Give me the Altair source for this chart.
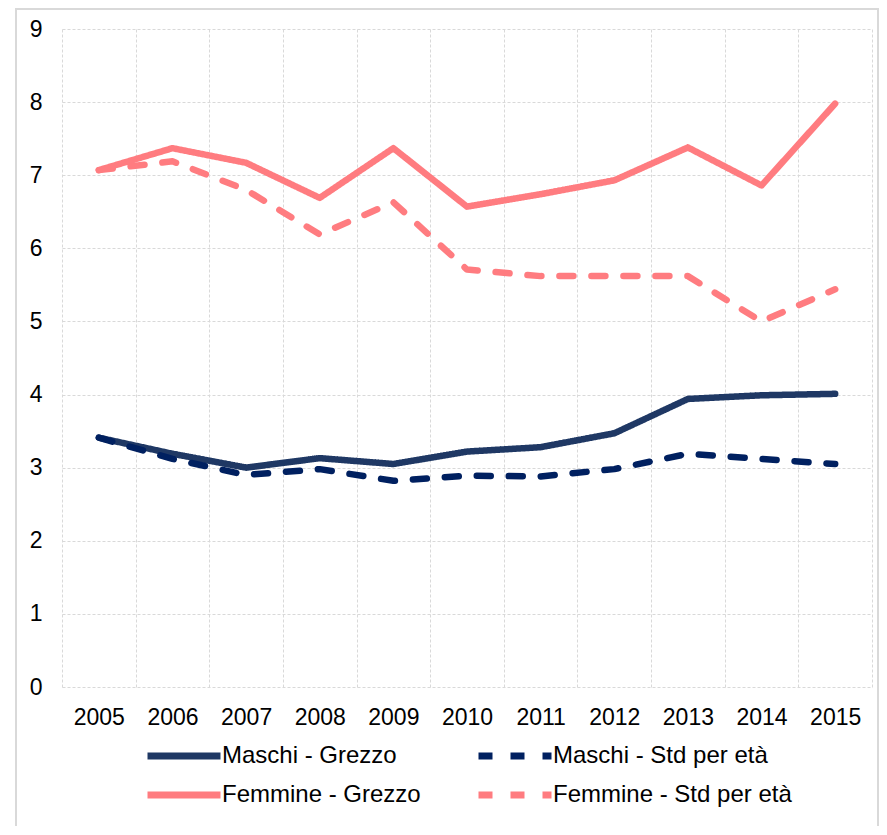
import altair as alt
import pandas as pd

years = list(range(2005, 2016))
maschi_grezzo = [3.41, 3.19, 3.00, 3.13, 3.05, 3.22, 3.28, 3.47, 3.94, 3.99, 4.01]
maschi_std = [3.41, 3.12, 2.90, 2.98, 2.82, 2.89, 2.88, 2.98, 3.19, 3.12, 3.05]
femmine_grezzo = [7.07, 7.37, 7.17, 6.69, 7.37, 6.57, 6.74, 6.93, 7.38, 6.86, 7.98]
femmine_std = [7.07, 7.19, 6.80, 6.19, 6.63, 5.71, 5.62, 5.62, 5.62, 5.00, 5.44]

series_names = ["Maschi - Grezzo", "Maschi - Std per età", "Femmine - Grezzo", "Femmine - Std per età"]
series_values = [maschi_grezzo, maschi_std, femmine_grezzo, femmine_std]
series_colors = ["#1F3864", "#002060", "#FF7C80", "#FF7C80"]
series_dash = [[1, 0], [14, 18], [1, 0], [14, 18]]

rows = []
for name, vals in zip(series_names, series_values):
    for y, v in zip(years, vals):
        rows.append({"Anno": str(y), "Serie": name, "Valore": v})
df = pd.DataFrame(rows)

FONT = "Liberation Sans"


def make_legend():
    return alt.Legend(title=None, orient="none", legendX=81, legendY=715,
                      direction="horizontal", columns=2, columnPadding=43, rowPadding=11,
                      symbolType="M-5,0H5", symbolSize=14.6 * 14.6, symbolOffset=29,
                      symbolStrokeWidth=7,
                      labelFontSize=24, labelFont=FONT, labelColor="#000000",
                      labelLimit=400, labelOffset=26)


lines = alt.Chart(df).mark_line(strokeWidth=6.5, strokeCap="round", strokeJoin="round").encode(
    x=alt.X("Anno:O", title=None,
            scale=alt.Scale(type="band", paddingInner=0, paddingOuter=0),
            axis=alt.Axis(labelAngle=0, tickBand="extent", grid=True, ticks=False, domain=False,
                          labelPadding=19, labelFontSize=23, labelFont=FONT, labelColor="#000000",
                          gridColor="#D9D9D9", gridDash=[3, 2], gridWidth=1)),
    y=alt.Y("Valore:Q", title=None,
            scale=alt.Scale(domain=[0, 9], nice=False),
            axis=alt.Axis(values=list(range(0, 10)), ticks=False, domain=False,
                          labelPadding=20, labelFontSize=23, labelFont=FONT, labelColor="#000000",
                          gridColor="#D9D9D9", gridDash=[3, 2], gridWidth=1)),
    color=alt.Color("Serie:N", sort=series_names,
                    scale=alt.Scale(domain=series_names, range=series_colors),
                    legend=make_legend()),
    strokeDash=alt.StrokeDash("Serie:N", sort=series_names,
                              scale=alt.Scale(domain=series_names, range=series_dash),
                              legend=make_legend()),
    order=alt.Order("Anno:O"),
)

frame = alt.Chart(alt.Data(values=[{"k": 1}])).mark_rect(
    fill="transparent", stroke="#D9D9D9", strokeWidth=2
).encode(
    x=alt.value(-46), x2=alt.value(816), y=alt.value(-20), y2=alt.value(840)
)

chart = alt.layer(frame, lines).properties(
    width=810, height=658,
    autosize=alt.AutoSizeParams(type="none"),
    padding={"left": 54, "top": 21, "right": 7, "bottom": 139},
    background="white",
).configure_view(stroke=None)

chart.save("out.html", embed_options={"renderer": "svg", "actions": False})
